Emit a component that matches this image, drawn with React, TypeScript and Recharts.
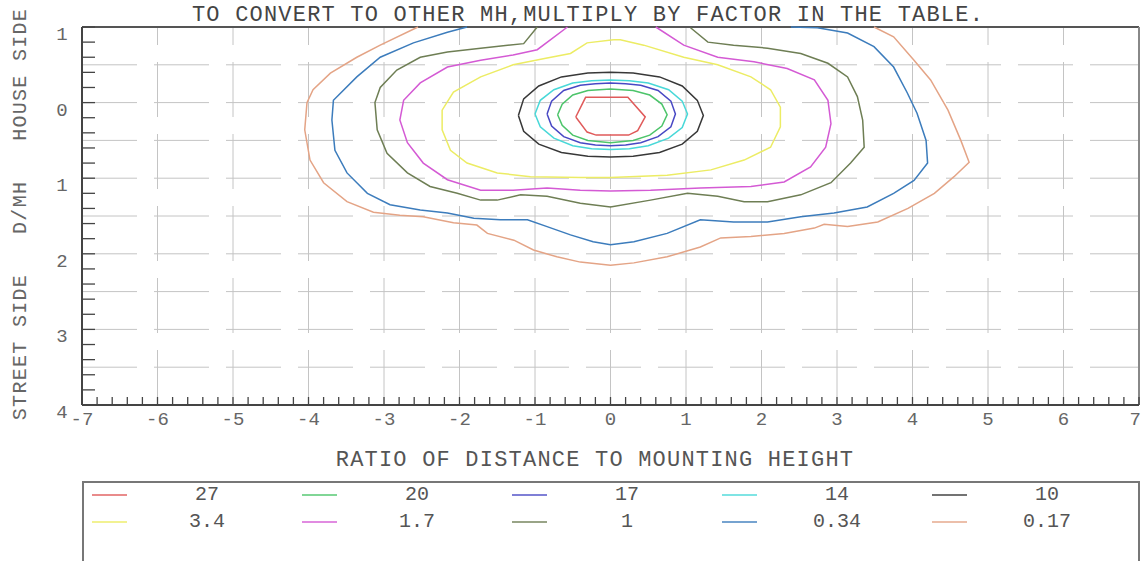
import React from 'react';
import { LineChart, Line, XAxis, YAxis, ReferenceLine } from 'recharts';

const TITLE = 'TO CONVERT TO OTHER MH,MULTIPLY BY FACTOR IN THE TABLE.';
const X_LABEL = 'RATIO OF DISTANCE TO MOUNTING HEIGHT';
const Y_LABEL = 'STREET SIDE   D/MH   HOUSE SIDE';

const LEVELS = ['27', '20', '17', '14', '10', '3.4', '1.7', '1', '0.34', '0.17'];
const COLORS = ['#e05a5a', '#4cc46a', '#4848c4', '#48d8d8', '#383838', '#ecec64', '#d45ad4', '#6e7e54', '#3c7cbc', '#e4a486'];

// contour polylines: [ratio x, D/MH y] (y positive = street side)
const C27 = [[-0.46, 0.19], [-0.33, -0.07], [0.23, -0.07], [0.46, 0.19], [0.36, 0.37], [0.24, 0.43], [-0.19, 0.43], [-0.31, 0.39], [-0.46, 0.19]];
const C20 = [[-0.7, 0.16], [-0.64, 0.02], [-0.5, -0.1], [-0.3, -0.16], [0, -0.18], [0.3, -0.16], [0.52, -0.1], [0.68, 0.02], [0.75, 0.16], [0.68, 0.31], [0.52, 0.43], [0.3, 0.5], [0, 0.53], [-0.3, 0.5], [-0.5, 0.43], [-0.64, 0.3], [-0.7, 0.16]];
const C17 = [[-0.84, 0.15], [-0.78, -0.02], [-0.62, -0.16], [-0.4, -0.23], [-0.2, -0.25], [0, -0.26], [0.2, -0.25], [0.4, -0.23], [0.63, -0.16], [0.8, -0.02], [0.86, 0.15], [0.8, 0.32], [0.63, 0.45], [0.4, 0.53], [0.2, 0.56], [0, 0.57], [-0.2, 0.56], [-0.4, 0.53], [-0.62, 0.45], [-0.78, 0.31], [-0.84, 0.15]];
const C14 = [[-1.0, 0.15], [-0.93, -0.03], [-0.75, -0.17], [-0.5, -0.26], [-0.25, -0.29], [0, -0.3], [0.25, -0.29], [0.5, -0.26], [0.77, -0.17], [0.95, -0.02], [1.02, 0.15], [0.95, 0.33], [0.77, 0.47], [0.5, 0.57], [0.25, 0.61], [0, 0.62], [-0.25, 0.61], [-0.5, 0.57], [-0.75, 0.47], [-0.93, 0.32], [-1.0, 0.15]];
const C10 = [[-1.22, 0.17], [-1.15, -0.05], [-0.95, -0.22], [-0.65, -0.34], [-0.3, -0.39], [0, -0.4], [0.3, -0.39], [0.65, -0.34], [0.95, -0.22], [1.15, -0.03], [1.23, 0.17], [1.15, 0.38], [0.95, 0.55], [0.65, 0.66], [0.3, 0.71], [0, 0.72], [-0.3, 0.71], [-0.65, 0.66], [-0.95, 0.55], [-1.15, 0.38], [-1.22, 0.17]];
const C3_4 = [[0.04, -0.83], [-0.31, -0.79], [-0.53, -0.65], [-0.84, -0.59], [-1.29, -0.5], [-1.72, -0.34], [-2.08, -0.14], [-2.23, 0.1], [-2.23, 0.36], [-2.12, 0.63], [-1.9, 0.8], [-1.5, 0.93], [-1.06, 0.98], [-0.4, 0.99], [0, 0.99], [0.75, 0.96], [1.33, 0.89], [1.77, 0.76], [2.12, 0.59], [2.25, 0.32], [2.25, 0.06], [2.12, -0.17], [1.86, -0.34], [1.42, -0.5], [0.97, -0.6], [0.44, -0.76], [0.13, -0.83], [0.04, -0.83]];
const C1_7 = [[-0.57, -1.0], [-0.97, -0.7], [-1.29, -0.63], [-1.72, -0.56], [-2.16, -0.47], [-2.52, -0.26], [-2.74, -0.03], [-2.79, 0.23], [-2.69, 0.53], [-2.48, 0.8], [-2.16, 1.02], [-1.72, 1.16], [-1.29, 1.16], [-0.84, 1.13], [-0.4, 1.16], [0, 1.17], [0.53, 1.16], [1.19, 1.13], [1.86, 1.11], [2.3, 1.05], [2.65, 0.85], [2.85, 0.59], [2.92, 0.28], [2.88, -0.03], [2.7, -0.3], [2.34, -0.45], [1.9, -0.54], [1.42, -0.6], [0.97, -0.76], [0.6, -1.0]];
const C1 = [[-0.97, -1.0], [-1.15, -0.78], [-1.72, -0.72], [-2.16, -0.67], [-2.52, -0.6], [-2.83, -0.43], [-3.05, -0.2], [-3.12, 0.0], [-3.09, 0.36], [-2.96, 0.67], [-2.69, 0.93], [-2.39, 1.11], [-2.03, 1.2], [-1.72, 1.29], [-1.5, 1.29], [-1.19, 1.22], [-0.84, 1.24], [-0.4, 1.33], [0, 1.38], [0.53, 1.29], [1.02, 1.2], [1.42, 1.24], [1.77, 1.31], [2.08, 1.31], [2.52, 1.22], [2.92, 1.06], [3.18, 0.8], [3.36, 0.59], [3.34, 0.23], [3.27, -0.08], [3.14, -0.34], [2.88, -0.52], [2.52, -0.65], [2.08, -0.72], [1.63, -0.76], [1.29, -0.8], [1.06, -0.99]];
const C0_34 = [[-1.9, -1.0], [-2.16, -0.93], [-2.61, -0.79], [-3.05, -0.6], [-3.36, -0.34], [-3.67, -0.03], [-3.69, 0.23], [-3.65, 0.63], [-3.49, 0.93], [-3.22, 1.2], [-2.92, 1.35], [-2.52, 1.42], [-2.16, 1.46], [-1.81, 1.53], [-1.46, 1.55], [-1.1, 1.55], [-0.84, 1.64], [-0.53, 1.75], [-0.23, 1.84], [0, 1.88], [0.31, 1.84], [0.75, 1.73], [1.19, 1.55], [1.63, 1.58], [2.08, 1.58], [2.52, 1.51], [2.96, 1.46], [3.4, 1.38], [3.75, 1.2], [4.02, 1.03], [4.2, 0.8], [4.18, 0.5], [4.06, 0.14], [3.93, -0.13], [3.75, -0.47], [3.49, -0.74], [3.14, -0.92], [2.74, -0.99], [2.39, -1.0]];
const C0_17 = [[-2.55, -1.0], [-3.05, -0.76], [-3.36, -0.6], [-3.71, -0.39], [-3.94, -0.17], [-4.02, 0.0], [-4.05, 0.36], [-3.98, 0.76], [-3.8, 1.06], [-3.49, 1.31], [-3.14, 1.45], [-2.79, 1.49], [-2.48, 1.51], [-2.08, 1.59], [-1.77, 1.62], [-1.63, 1.73], [-1.28, 1.82], [-1.02, 1.95], [-0.71, 2.04], [-0.4, 2.11], [0, 2.15], [0.31, 2.12], [0.75, 2.04], [1.19, 1.91], [1.46, 1.79], [1.86, 1.77], [2.3, 1.73], [2.7, 1.66], [2.83, 1.61], [3.14, 1.64], [3.54, 1.58], [3.94, 1.4], [4.29, 1.2], [4.55, 0.98], [4.75, 0.79], [4.64, 0.5], [4.47, 0.1], [4.24, -0.3], [4.02, -0.56], [3.75, -0.87], [3.49, -1.0]];

const CONTOURS = [C27, C20, C17, C14, C10, C3_4, C1_7, C1, C0_34, C0_17];

const X_TICKS = [
  -7, -6.8, -6.6, -6.4, -6.2, -6, -5.8, -5.6, -5.4, -5.2, -5, -4.8, -4.6, -4.4, -4.2,
  -4, -3.8, -3.6, -3.4, -3.2, -3, -2.8, -2.6, -2.4, -2.2, -2, -1.8, -1.6, -1.4, -1.2,
  -1, -0.8, -0.6, -0.4, -0.2, 0, 0.2, 0.4, 0.6, 0.8, 1, 1.2, 1.4, 1.6, 1.8,
  2, 2.2, 2.4, 2.6, 2.8, 3, 3.2, 3.4, 3.6, 3.8, 4, 4.2, 4.4, 4.6, 4.8,
  5, 5.2, 5.4, 5.6, 5.8, 6, 6.2, 6.4, 6.6, 6.8, 7,
];
const Y_TICKS = [-1, -0.8, -0.6, -0.4, -0.2, 0, 0.2, 0.4, 0.6, 0.8, 1, 1.2, 1.4, 1.6, 1.8, 2, 2.2, 2.4, 2.6, 2.8, 3, 3.2, 3.4, 3.6, 3.8, 4];
const GRID_X = [-6, -5, -4, -3, -2, -1, 0, 1, 2, 3, 4, 5, 6];
const GRID_Y = [-0.5, 0, 0.5, 1, 1.5, 2, 2.5, 3, 3.5];

const FONT = '"Liberation Mono", "DejaVu Sans Mono", monospace';

const isWhole = (v: number) => Math.abs(v - Math.round(v)) < 1e-6;

const XTick = (props: any) => {
  const { x, y, payload } = props;
  const v = payload.value;
  const last = v >= 7 - 1e-6;
  return (
    <g>
      <line x1={x} x2={x} y1={y} y2={y - 8} stroke="#444" strokeWidth={1.3} />
      {isWhole(v) && (
        <text
          x={last ? x + 2 : x}
          y={y + 15}
          textAnchor={last ? 'end' : 'middle'}
          dominantBaseline="central"
          fontFamily={FONT}
          fontSize={19}
          fill="#666"
        >
          {Math.round(v)}
        </text>
      )}
    </g>
  );
};

const YTick = (props: any) => {
  const { x, y, payload } = props;
  const v = payload.value;
  return (
    <g>
      <line x1={x} x2={x + 13} y1={y} y2={y} stroke="#444" strokeWidth={1.3} />
      {isWhole(v) && (
        <text x={x - 20} y={y + 8} textAnchor="middle" dominantBaseline="central" fontFamily={FONT} fontSize={19} fill="#666">
          {Math.abs(Math.round(v))}
        </text>
      )}
    </g>
  );
};

export default function App() {
  const series = CONTOURS.map((c) => c.map(([x, y]) => ({ x, y })));
  const order = [9, 8, 7, 6, 5, 4, 3, 2, 1, 0];
  return (
    <div style={{ position: 'absolute', left: 0, top: 0, width: 1141, height: 561, background: '#fff', overflow: 'hidden' }}>
      <LineChart width={1141} height={561} margin={{ top: 27, right: 2, bottom: 126, left: 22 }}>
        <XAxis
          type="number"
          dataKey="x"
          domain={[-7, 7]}
          ticks={X_TICKS}
          interval={0}
          height={30}
          tickSize={0}
          tickMargin={0}
          tickLine={false}
          tick={<XTick />}
          axisLine={{ stroke: '#444', strokeWidth: 2 }}
        />
        <YAxis
          type="number"
          dataKey="y"
          domain={[-1, 4]}
          reversed
          ticks={Y_TICKS}
          interval={0}
          width={60}
          tickSize={0}
          tickMargin={0}
          tickLine={false}
          tick={<YTick />}
          axisLine={{ stroke: '#444', strokeWidth: 2 }}
        />
        {GRID_Y.map((v) => (
          <ReferenceLine key={'gy' + v} y={v} stroke="#c4c4c4" strokeWidth={1} strokeDasharray="55 17" />
        ))}
        {GRID_X.map((v) => (
          <ReferenceLine key={'gx' + v} x={v} stroke="#c4c4c4" strokeWidth={1} strokeDasharray="55 17" />
        ))}
        <ReferenceLine y={-1} stroke="#555" strokeWidth={2} />
        <ReferenceLine x={7} stroke="#888" strokeWidth={2} />
        {order.map((i) => (
          <Line
            key={LEVELS[i]}
            data={series[i]}
            dataKey="y"
            type="linear"
            stroke={COLORS[i]}
            strokeWidth={1.5}
            dot={false}
            isAnimationActive={false}
          />
        ))}
      </LineChart>
      <svg width={1141} height={561} style={{ position: 'absolute', left: 0, top: 0, pointerEvents: 'none' }}>
        <text x={588} y={21} textAnchor="middle" fontFamily={FONT} fontSize={22} letterSpacing={1.2} fill="#444">
          {TITLE}
        </text>
        <text x={595} y={466} textAnchor="middle" fontFamily={FONT} fontSize={22} letterSpacing={1.2} fill="#555">
          {X_LABEL}
        </text>
        <text
          transform="translate(26,214) rotate(-90)"
          x={0}
          y={0}
          textAnchor="middle"
          fontFamily={FONT}
          fontSize={20}
          letterSpacing={1.3}
          fill="#666"
          xmlSpace="preserve"
          style={{ whiteSpace: 'pre' }}
        >
          {Y_LABEL}
        </text>
      </svg>
      <div style={{ position: 'absolute', left: 82, top: 481, width: 1054, height: 120, border: '2px solid #777', boxSizing: 'content-box' }} />
      {LEVELS.map((lv, i) => {
        const col = i % 5;
        const row = Math.floor(i / 5);
        const cy = 495 + row * 27;
        return (
          <React.Fragment key={'lg' + lv}>
            <div style={{ position: 'absolute', left: 92 + col * 210, top: cy - 1, width: 35, height: 2, background: COLORS[i], opacity: 0.7 }} />
            <div style={{ position: 'absolute', left: 157 + col * 210, top: cy - 12, width: 100, textAlign: 'center', fontFamily: FONT, fontSize: 20, lineHeight: '24px', color: '#555' }}>
              {lv}
            </div>
          </React.Fragment>
        );
      })}
    </div>
  );
}
